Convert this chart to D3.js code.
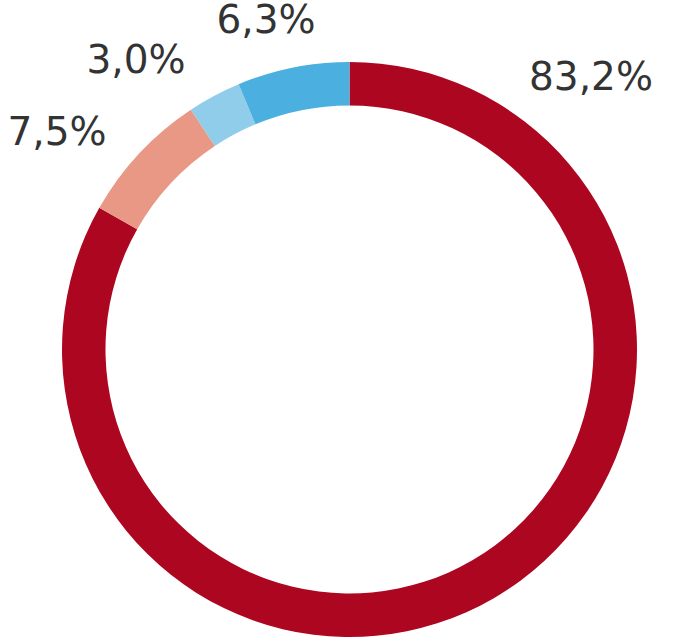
<!DOCTYPE html>
<html><head><meta charset="utf-8">
<script src="https://cdn.jsdelivr.net/npm/d3@7"></script>
<style>html,body{margin:0;padding:0;background:#fff;}svg{display:block;}</style>
</head><body>
<svg id="chart" width="700" height="642"></svg>
<script>
const categories = ["A", "B", "C", "D"];
const values = [83.2, 7.5, 3.0, 6.3];
const labels = ["83,2%", "7,5%", "3,0%", "6,3%"];
const colors = ["#AD0621", "#E99886", "#8FCDEA", "#4BAFDF"];
// label anchor positions (layout, px)
const labelPos = [[591, 90], [57, 145], [136, 73], [266, 33]];

const svg = d3.select("#chart");
const cx = 349.5, cy = 349.5, rOuter = 287.5, rInner = 244;

const pie = d3.pie().sort(null).value(d => d.v).startAngle(0).endAngle(2 * Math.PI);
const arc = d3.arc().innerRadius(rInner).outerRadius(rOuter);
const data = categories.map((c, i) => ({c, v: values[i], i}));

const g = svg.append("g").attr("transform", `translate(${cx},${cy})`);
g.selectAll("path").data(pie(data)).join("path")
  .attr("d", arc)
  .attr("fill", d => colors[d.data.i]);

svg.selectAll("text.lbl").data(data).join("text")
  .attr("class", "lbl")
  .attr("x", d => labelPos[d.i][0])
  .attr("y", d => labelPos[d.i][1])
  .attr("text-anchor", "middle")
  .attr("font-family", "DejaVu Sans, sans-serif")
  .attr("font-size", 39)
  .attr("fill", "#333333")
  .text(d => labels[d.i]);
</script>
</body></html>
